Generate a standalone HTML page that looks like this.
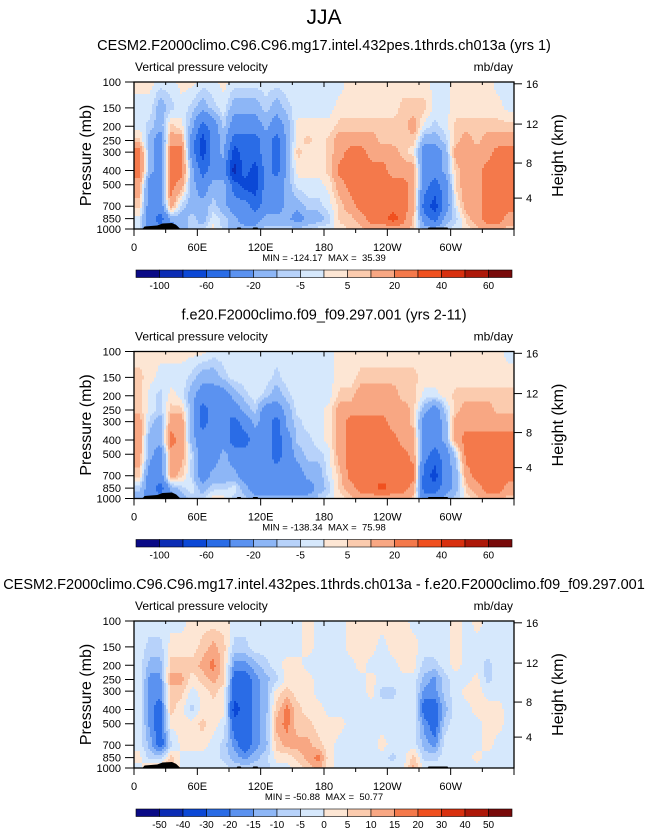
<!DOCTYPE html>
<html><head><meta charset="utf-8"><style>
html,body{margin:0;padding:0;background:#fff;}
svg{display:block;font-family:"Liberation Sans",sans-serif;}
</style></head><body>
<svg id="fig" width="648" height="832" viewBox="0 0 648 832">
<text x="324" y="24" font-size="21" text-anchor="middle">JJA</text>
</svg>
<script>
// ---- data ----
const levels = [100,150,200,250,300,400,500,700,850,1000];
const lonCenters = [5,15,25,35,45,55,65,75,85,95,105,115,125,135,145,155,165,175,185,195,205,215,225,235,245,255,265,275,285,295,305,315,325,335,345,355];
// each row = one longitude column, values at levels 100..1000 (mb/day)
const p1Columns = [
[2,-2,-2,7,25,25,15,7,-2,-2],[2,-2,-7,-15,-15,-15,-30,-30,-30,-30],[-2,-15,-15,-30,-30,-30,-30,-30,-50,-30],
[-2,-7,7,15,25,25,25,15,-15,-30],[2,-2,2,15,25,25,15,-7,-15,-15],[2,-7,-15,-30,-30,-15,-15,-15,-7,-7],
[-2,-15,-50,-70,-70,-50,-30,-15,-15,-7],[-2,-7,-30,-30,-30,-30,-15,-7,-2,2],[2,-2,-7,-15,-15,-30,-15,-15,-7,-7],
[-2,-15,-30,-50,-70,-90,-50,-30,-15,-15],[-2,-15,-30,-50,-50,-50,-70,-30,-30,-15],[-2,-15,-30,-50,-50,-70,-70,-50,-30,-15],
[-2,-7,-15,-30,-30,-30,-30,-30,-15,-7],[-2,-15,-30,-50,-50,-50,-30,-30,-15,-7],[-2,-7,-15,-15,-15,-15,-15,-15,-15,-7],
[-2,-2,2,2,7,2,-2,-15,-30,-7],[-2,-2,2,7,2,2,-2,-7,-15,-7],[-2,-2,2,2,2,2,-2,-7,-15,-2],
[-2,-2,2,7,7,7,2,-2,-7,-2],[-2,2,7,15,15,25,15,7,7,2],[2,2,7,15,25,25,25,15,7,7],
[2,2,7,15,25,25,25,25,15,7],[2,2,7,15,15,25,25,25,25,15],[2,2,7,7,15,25,25,25,25,15],
[2,2,7,7,15,15,25,25,35,15],[2,7,7,7,7,15,25,25,25,15],[2,7,15,7,2,15,15,15,7,7],
[2,7,-2,-15,-30,-30,-30,-50,-30,-15],[-2,-2,-7,-15,-30,-30,-50,-70,-50,-15],[-2,-2,-2,-7,-15,-15,-30,-30,-15,-7],
[2,2,7,7,15,7,7,-2,-7,-2],[2,2,7,15,15,15,15,15,7,2],[2,2,7,7,15,15,15,15,15,7],
[2,2,7,15,15,25,25,25,25,15],[-2,2,7,15,25,25,25,25,25,15],[-2,-2,7,15,25,25,25,25,15,7]];
const p2Columns = [
[2,7,7,7,15,15,15,7,-7,-15],[2,2,-2,-2,-7,-15,-15,-30,-30,-30],[2,-2,-7,-7,-15,-15,-30,-30,-50,-30],
[2,-2,2,7,15,25,15,15,-15,-30],[2,-2,-2,7,15,15,15,7,-7,-15],[2,-7,-15,-15,-15,-15,-7,-7,-2,-7],
[2,-15,-30,-50,-50,-30,-30,-30,-15,-7],[-2,-15,-30,-30,-30,-30,-30,-15,-7,2],[-2,-7,-30,-30,-30,-30,-15,-15,-7,2],
[-2,-2,-15,-30,-50,-50,-30,-15,-2,-7],[-2,-2,-7,-15,-30,-50,-30,-30,-15,-7],[-2,-2,-2,-7,-15,-30,-30,-30,-30,-15],
[-2,-2,-7,-30,-30,-30,-30,-30,-30,-15],[-2,-7,-15,-30,-50,-50,-50,-30,-30,-15],[-2,-2,-7,-15,-15,-30,-30,-30,-30,-15],
[-2,-2,-2,-2,-7,-7,-15,-30,-30,-15],[-2,-2,-2,-2,-2,-7,-7,-15,-30,-15],[-2,-2,-2,-2,-2,-2,-7,-15,-15,-7],
[-2,-2,-2,2,2,2,-2,-2,-7,-2],[2,2,7,15,15,15,15,7,7,2],[2,2,7,15,25,25,25,25,15,7],
[2,7,15,15,25,25,25,25,25,15],[2,7,15,15,25,25,25,25,25,15],[2,7,15,15,25,25,25,25,35,15],
[2,7,15,15,15,25,25,25,25,15],[2,7,7,15,15,15,25,25,25,15],[2,7,7,7,7,15,15,25,15,7],
[2,2,-2,-15,-30,-30,-30,-50,-50,-30],[2,2,-2,-30,-30,-30,-50,-70,-50,-30],[2,2,2,-7,-15,-15,-30,-30,-30,-15],
[2,2,7,7,15,15,-7,-15,-15,-7],[2,2,7,15,15,25,25,15,7,2],[2,2,7,15,15,25,25,25,15,7],
[2,2,7,15,15,25,25,25,25,15],[2,2,7,7,15,25,25,25,25,15],[-2,2,7,7,15,25,25,25,15,7]];
const p3Columns = [
[-2,-2,-2,-2,-2,-2,-2,-2,2,-2],[-2,-7,-12,-17,-17,-17,-17,-12,-7,7],[-2,-7,-12,-17,-17,-25,-25,-25,-7,7],
[-2,2,7,12,7,7,2,-7,7,12],[-2,2,7,12,7,2,2,2,-2,-2],[2,2,7,2,-2,-7,2,2,-2,-2],
[2,7,12,7,2,2,7,2,-2,-2],[2,12,17,12,7,2,2,-2,-2,-2],[2,7,7,7,2,2,-2,-7,-7,-2],
[-2,-7,-17,-25,-25,-35,-25,-17,-12,-7],[-2,-7,-17,-25,-25,-25,-25,-25,-17,-7],[-2,-2,-12,-17,-17,-17,-17,-17,-12,-7],
[-2,-2,-7,-12,-12,-12,-12,-12,-7,-7],[-2,-2,-2,-7,2,7,12,7,2,-2],[-2,-2,2,2,7,17,17,12,2,-2],
[-2,-2,2,2,2,7,7,12,7,2],[2,2,-2,2,2,2,7,12,12,7],[-2,-2,-2,-2,-2,2,2,7,17,12],
[-2,-2,-2,-2,-2,-2,2,2,2,2],[-2,-2,-2,-2,-2,-2,2,-2,-2,-2],[2,2,-2,-2,-2,-2,-2,-2,-2,-2],
[2,2,2,-2,-2,-2,-2,-2,-2,-2],[2,2,-2,2,2,-2,-2,-2,-2,-2],[2,-2,-2,-2,-7,-2,-2,2,-2,-2],
[2,2,-2,-2,-7,-2,-2,-2,-7,-2],[2,2,2,-2,-2,-2,-2,-2,-2,-2],[-2,2,2,-2,-2,-2,-2,-2,7,12],
[-2,-2,-7,-12,-17,-25,-17,-12,-7,-2],[-2,-2,-7,-17,-17,-25,-25,-17,-7,-2],[-2,-2,-2,-7,-7,-12,-7,-2,-2,-2],
[2,2,2,-2,-2,-2,-2,-2,-2,-2],[-2,-2,-2,-2,2,-2,-2,-2,-2,-2],[2,-2,-2,2,2,2,-2,-2,2,-2],
[-2,-2,-7,-7,-2,2,2,2,-2,-2],[-2,-2,-2,-2,-2,2,2,-2,-2,-2],[-2,-2,-2,-2,-2,-2,-2,-2,-2,-2]];
const contourLevelsAbs = [-100,-80,-60,-40,-20,-10,-5,0,5,10,20,30,40,50,60];
const contourLevelsDiff = [-50,-40,-30,-20,-15,-10,-5,0,5,10,15,20,30,40,50];
const cbLabelsAbs = ["-100","","-60","","-20","","-5","","5","","20","","40","","60"];
const cbLabelsDiff = ["-50","-40","-30","-20","-15","-10","-5","0","5","10","15","20","30","40","50"];
const xTickLabels = ["0","60E","120E","180","120W","60W"];
const xTickLons = [0,60,120,180,240,300];
const heightTicks = [16,12,8,4];
const minMax = [["-124.17","35.39"],["-138.34","75.98"],["-50.88","50.77"]];
const titles = ["CESM2.F2000climo.C96.C96.mg17.intel.432pes.1thrds.ch013a (yrs 1)",
 "f.e20.F2000climo.f09_f09.297.001 (yrs 2-11)",
 "CESM2.F2000climo.C96.C96.mg17.intel.432pes.1thrds.ch013a - f.e20.F2000climo.f09_f09.297.001"];
const palette = ["#0a0a86","#0b2cb4","#0b48d6","#2a6ce6","#5b92f0","#8db6f6","#b7d2fa","#d6e8fc",
 "#fde6d4","#fbcbae","#f8a783","#f4794b","#f0501f","#d8300f","#ad1809","#780a0a"];

// ---- drawing ----
const NS="http://www.w3.org/2000/svg";
const svg=document.getElementById('fig');
function mk(tag,attrs,parent){const e=document.createElementNS(NS,tag);for(const k in attrs)e.setAttribute(k,attrs[k]);(parent||svg).appendChild(e);return e;}
const X0=134,X1=514;
function xScale(lon){return X0+(lon/360)*(X1-X0);}
function yScaleFor(top){return p=>top+(Math.log10(p)-2)*147;}
function stdPressure(zkm){const z=zkm*1000;return z<11000?1013.25*Math.pow(1-2.25577e-5*z,5.25588):226.32*Math.exp(-(z-11000)/6341.6);}
function colorIdx(v,lev){let i=0;while(i<lev.length&&v>=lev[i])i++;return i;}
function sample(cols,lon,p){
  let fx=(lon-5)/10; if(fx<0)fx=0; if(fx>35)fx=35;
  const i0=Math.floor(fx),i1=Math.min(35,i0+1),tx=fx-i0;
  const lp=Math.log10(p); let j0=0;
  while(j0<levels.length-2&&Math.log10(levels[j0+1])<lp)j0++;
  const a=Math.log10(levels[j0]),b=Math.log10(levels[j0+1]);
  let ty=(lp-a)/(b-a); ty=Math.max(0,Math.min(1,ty));
  const v00=cols[i0][j0],v01=cols[i0][j0+1],v10=cols[i1][j0],v11=cols[i1][j0+1];
  return (v00*(1-tx)+v10*tx)*(1-ty)+(v01*(1-tx)+v11*tx)*ty;
}
function panel(k,cols,lev,cbLabels){
  const off=k*269.5, top=82+off, bot=229+off, ys=yScaleFor(top);
  const g=mk('g',{});
  
  
  const t=mk('text',{x:324,y:50+off,'font-size':14.5,'text-anchor':'middle'},g);t.textContent=titles[k];
  
  const vl=mk('text',{x:135,y:71+off,'font-size':12},g);vl.textContent='Vertical pressure velocity';
  
  const ul=mk('text',{x:513,y:71+off,'font-size':12,'text-anchor':'end'},g);ul.textContent='mb/day';
  
  const fg=mk('g',{'shape-rendering':'crispEdges'},g);
  
  const step=2;
  for(let y=top;y<bot;y+=step){
    const yc=y+step/2, p=Math.pow(10,2+(yc-top)/147);
    let runStart=X0,runC=-1;
    for(let x=X0;x<=X1;x+=step){
      let c=-2;
      if(x<X1){const lon=(x+step/2-X0)/(X1-X0)*360;c=colorIdx(sample(cols,lon,p),lev);}
      if(c!==runC){
        if(runC>=0){const r=mk('rect',{x:runStart,y:y,width:x-runStart,height:Math.min(step,bot-y)+0.3,fill:palette[runC]},fg);
          }
        runStart=x;runC=c;
      }
    }
  }
  const tp=mk('path',{d:`M${xScale(8)},${bot} L${xScale(10)},${bot-2.5} L${xScale(22)},${bot-3.5} L${xScale(27)},${bot-5.5} L${xScale(36)},${bot-6} L${xScale(40)},${bot-4} L${xScale(44)},${bot} Z M${xScale(278)},${bot} L${xScale(279)},${bot-1.5} L${xScale(297)},${bot-1.5} L${xScale(298)},${bot} Z M${xScale(97)},${bot} L${xScale(98)},${bot-1.5} L${xScale(101)},${bot-1.5} L${xScale(102)},${bot} Z M${xScale(112)},${bot} L${xScale(113)},${bot-1.5} L${xScale(117)},${bot-1.5} L${xScale(118)},${bot} Z`,fill:'#000'},g);
  
  const fr=mk('rect',{x:X0,y:top,width:X1-X0,height:bot-top,fill:'none',stroke:'#000','stroke-width':1.3},g);
  
  levels.forEach(p=>{
    const y=ys(p);
    mk('line',{x1:X0-9,x2:X0,y1:y,y2:y,stroke:'#000','stroke-width':1},g);
    const l=mk('text',{x:X0-13,y:y+4,'font-size':11,'text-anchor':'end'},g);l.textContent=p;
    
  });
  const yt=mk('text',{x:0,y:0,'font-size':16,'text-anchor':'middle',transform:`translate(91,${(top+bot)/2}) rotate(-90)`},g);
  yt.textContent='Pressure (mb)';
  heightTicks.forEach(z=>{
    const y=ys(stdPressure(z));
    mk('line',{x1:X1,x2:X1+8,y1:y,y2:y,stroke:'#000','stroke-width':1},g);
    const l=mk('text',{x:X1+12,y:y+4,'font-size':11},g);l.textContent=z;
    
  });
  const ht=mk('text',{x:0,y:0,'font-size':16,'text-anchor':'middle',transform:`translate(563,${(top+bot)/2}) rotate(-90)`},g);
  ht.textContent='Height (km)';
  for(let lon=0;lon<=360;lon+=30){
    const x=xScale(lon), major=lon%60===0;
    mk('line',{x1:x,x2:x,y1:bot,y2:bot+(major?7:4),stroke:'#000','stroke-width':1},g);
    mk('line',{x1:x,x2:x,y1:top,y2:top+(major?5:3),stroke:'#000','stroke-width':1},g);
  }
  xTickLabels.forEach((s,i)=>{
    const l=mk('text',{x:xScale(xTickLons[i]),y:bot+22,'font-size':11,'text-anchor':'middle'},g);l.textContent=s;
    
  });
  const mm=mk('text',{x:324,y:bot+32,'font-size':9.5,'text-anchor':'middle'},g);
  mm.textContent='MIN = '+minMax[k][0]+'\u00a0\u00a0MAX =\u00a0\u00a0'+minMax[k][1];
  
  const cbY=bot+41, cbX=136, cbW=376, bw=cbW/16;
  const cb=mk('g',{},g);
  palette.forEach((c,i)=>{
    const r=mk('rect',{x:cbX+i*bw,y:cbY,width:bw,height:7.5,fill:c,stroke:'#000','stroke-width':0.6},cb);
    
  });
  cbLabels.forEach((s,i)=>{
    if(!s)return;
    const l=mk('text',{x:cbX+(i+1)*bw,y:cbY+19,'font-size':10,'text-anchor':'middle'},cb);l.textContent=s;
    
  });
}
panel(0,p1Columns,contourLevelsAbs,cbLabelsAbs);
panel(1,p2Columns,contourLevelsAbs,cbLabelsAbs);
panel(2,p3Columns,contourLevelsDiff,cbLabelsDiff);
</script>
</body></html>
